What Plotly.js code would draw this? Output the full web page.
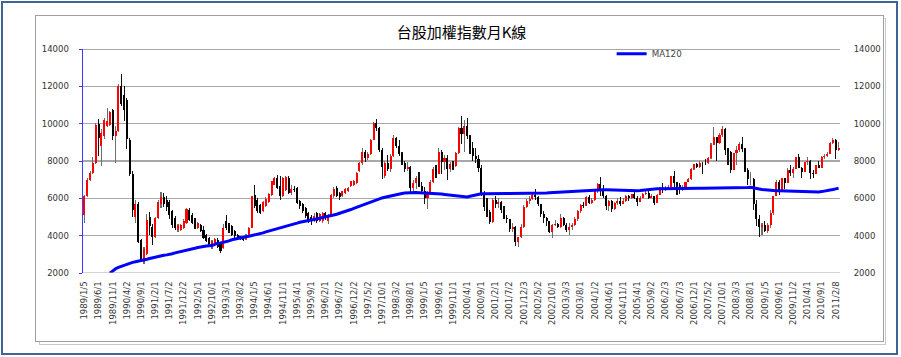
<!DOCTYPE html>
<html>
<head>
<meta charset="utf-8">
<script src="https://cdn.plot.ly/plotly-3.0.1.min.js"></script>
<style>
html,body{margin:0;padding:0;background:#fff;}
#wrap{position:relative;width:901px;height:357px;overflow:hidden;background:#fff;}
#outer{position:absolute;left:1px;top:1px;width:897px;height:354px;box-sizing:border-box;border:2px solid #3f6596;}
#f2{position:absolute;left:39px;top:18px;width:847px;height:327px;box-sizing:border-box;border:1px solid #c8c8c8;}
#f1{position:absolute;left:35px;top:15px;width:849px;height:327px;box-sizing:border-box;border:1px solid #a0a0a0;background:#fff;}
#chart{position:absolute;left:0;top:0;width:901px;height:357px;}
</style>
</head>
<body>
<div id="wrap">
<div id="outer"></div>
<div id="f2"></div>
<div id="f1"></div>
<div id="chart"></div>
</div>
<script>
// Monthly candles, 1989/1 .. 2011/3
const startYear = 1989, monthCount = 267;
const months = [];
for (let i = 0; i < monthCount; i++) {
  const y = startYear + Math.floor(i / 12), m = (i % 12) + 1;
  months.push(y + '/' + m);
}

const openP = [
 5120,6140,7000,7360,7890,10000,8790,9320,9890,9950,10750,9320,
 9600,12000,11520,11250,9100,7330,5000,5710,3750,2590,3040,4990,
 4460,3930,4960,5700,6070,5900,5800,5300,4950,4290,4320,4410,
 4680,5390,5120,4860,4410,4590,4320,4050,3880,3520,3610,3790,
 3600,3340,4770,4590,4500,4230,4050,3960,3960,3800,4050,4410,
 6200,5930,5650,5300,5600,5800,6200,6730,7090,6640,6100,6460,
 7090,6290,6500,6550,5840,5700,5500,5210,5000,4800,5210,4800,
 4770,5210,4800,5124,6150,6550,6300,6100,6300,6400,6640,6700,
 6820,7450,7900,8500,8160,8400,9140,10030,9770,8610,7200,7900,
 7550,8250,9230,8800,8400,7890,7550,7700,6550,6800,7100,6650,
 6418,5998,6311,6881,7581,7316,8467,7940,8157,7598,7854,7721,
 8448,9744,9436,9854,9347,8690,8265,8114,7616,6185,5544,5256,
 4739,5936,5674,5798,5381,4935,4883,4352,4462,3636,3903,4441,
 5551,5872,5971,6167,6065,5675,5153,4940,4764,4191,4579,4646,
 4452,4941,4555,4322,4480,4555,4872,5318,5650,5611,6045,5771,
 5890,6375,6750,6523,6117,5578,5839,5420,5765,5845,5706,5844,
 6140,5994,6207,6006,5819,6011,6241,6312,6033,6119,5764,6204,
 6548,6532,6561,6613,7171,6846,6704,6455,6611,6883,7021,7567,
 7823,7699,7901,7884,7875,8145,8884,9287,8982,9411,9711,8586,
 8506,7521,8413,8572,8920,8619,7524,7024,7046,5719,4870,4460,
 4591,4248,4557,5210,6133,6890,6432,7078,6826,7509,7340,7582,
 8188,7640,7436,7920,8004,7374,7329,7761,7616,8238,8287,8372,
 8973,9145,8600
];
const highP = [
 6200,7100,7450,8210,10030,10250,9700,10300,10840,10700,10800,9860,
 12100,12682,12030,11400,9250,7450,5900,5800,3800,3400,5180,5250,
 4600,5000,5900,6365,6300,6100,5900,5350,5050,4650,4650,4900,
 5500,5480,5200,4950,4750,4650,4500,4100,3950,3750,3850,3850,
 3650,4600,5090,4700,4550,4300,4100,4000,4000,4100,4450,6150,
 6730,6000,5700,5850,6050,6300,6950,7150,7250,7180,7150,7200,
 7180,6700,6650,6600,5900,5750,5550,5250,5100,5200,5250,5200,
 5250,5250,5150,6250,6600,6650,6350,6400,6550,6600,6950,7000,
 7400,7950,8700,8600,8500,9200,10100,10256,9800,8700,8000,8300,
 8350,9378,9300,9150,8500,8000,7950,7750,7000,7200,7400,6900,
 6600,6400,7000,7700,7800,8710,8600,8300,8300,7950,8000,8500,
 9800,10393,10200,10300,9400,9000,8700,8300,7800,6400,6000,5400,
 6000,6100,6000,5850,5600,5100,4900,4700,4500,3950,4600,5650,
 5950,6100,6300,6484,6100,5700,5300,5000,4800,4650,4850,4700,
 5150,5000,4700,4700,4700,5000,5400,5700,5800,6100,6180,6000,
 6400,6800,7135,6700,6200,5900,5900,5800,6000,6050,6000,6200,
 6200,6250,6350,6100,6100,6300,6500,6400,6250,6150,6250,6600,
 6800,6650,6700,7200,7474,6900,6800,6700,6900,7100,7600,7850,
 7900,8000,7950,8100,8200,8950,9800,9300,9500,9859,9750,8700,
 8550,8450,8800,9000,9309,8700,7600,7400,7100,5900,5100,4700,
 4800,4700,5400,6100,7000,7000,7100,7100,7600,7800,7700,8200,
 8395,7700,7950,8190,8050,7500,7800,8000,8250,8400,8500,9000,
 9220,9200,9000
];
const lowP = [
 4680,6050,6950,7300,7850,8250,7710,9200,9800,9850,9140,7890,
 9550,10960,10130,8640,7200,5020,4700,3600,2600,2485,2950,4050,
 3490,3900,4900,5500,5540,5300,4900,4400,4300,4200,4250,4350,
 4600,4800,4600,4350,4350,4180,3800,3650,3400,3300,3550,3330,
 3070,3300,4300,4150,4000,3900,3800,3750,3700,3750,4000,4400,
 5500,5200,5150,5250,5550,5750,6150,6700,6500,5930,6050,6400,
 6250,6200,6350,5700,5450,5200,4950,4700,4590,4750,4700,4750,
 4700,4850,4650,5050,6000,6050,5900,6050,6250,6350,6600,6650,
 6750,7400,7800,7950,8050,8300,9100,9600,8500,7040,7100,7450,
 7400,8200,8700,8250,7800,7400,7450,6300,6220,6500,6600,6300,
 5700,5422,6250,6800,7100,7300,7300,7500,7000,7400,7500,7700,
 8400,8900,8500,9200,8400,8000,7900,7400,6100,5300,5000,4600,
 4700,5500,5500,5200,4900,4700,4200,4200,3446,3411,3850,4400,
 5500,5700,5900,5900,5600,5000,4700,4500,4150,3850,4500,4400,
 4400,4500,4200,4044,4300,4500,4800,5200,5500,5600,5700,5700,
 5850,6300,6100,6000,5400,5300,5255,5350,5650,5600,5700,5800,
 5850,5950,5950,5600,5800,6000,6200,5950,6000,5618,5750,6200,
 6300,6400,6500,6600,6600,6200,6250,6400,6550,6850,7000,7500,
 7600,7600,7300,7800,7850,8100,8850,8000,8900,9300,8300,7800,
 7384,7500,7800,8500,8500,7400,6700,6700,5400,4500,3955,4050,
 4200,4164,4400,5100,6100,6200,6400,6500,6800,7200,7100,7550,
 7600,7080,7400,7800,7032,7100,7300,7600,7600,8100,8200,8350,
 8900,8100,8550
];
const closeP = [
 6100,7000,7360,7890,9940,9230,9500,10210,10120,10600,9320,9624,
 12030,11070,10710,9200,7330,5360,5710,3660,2680,3300,4820,4530,
 3930,4960,5800,6050,5710,5540,5090,4590,4410,4590,4590,4800,
 5430,4860,4680,4410,4680,4230,3880,3700,3430,3700,3800,3380,
 3160,4410,4410,4230,4050,3960,3880,3820,3790,4000,4410,6100,
 5570,5300,5200,5800,5960,6230,6910,7090,6550,6100,7090,7124,
 6290,6500,6450,5750,5570,5300,5050,4770,4800,5050,4770,5173,
 5200,4940,5100,6196,6500,6100,6050,6370,6500,6550,6910,6933,
 7360,7890,8500,8160,8400,9140,10030,9770,8610,7700,7900,7550,
 8250,9230,8800,8400,7890,7550,7700,6550,6800,7100,6650,6418,
 5998,6311,6881,7581,7316,8467,7940,8157,7598,7854,7721,8448,
 9744,9436,9854,9347,8690,8265,8114,7616,6185,5544,5256,4739,
 5936,5674,5798,5381,4935,4883,4352,4462,3636,3903,4441,5551,
 5872,5971,6167,6065,5675,5153,4940,4764,4191,4579,4646,4452,
 4941,4555,4322,4480,4555,4872,5318,5650,5611,6045,5771,5890,
 6375,6750,6523,6117,5578,5839,5420,5765,5845,5706,5844,6140,
 5994,6207,6006,5819,6011,6241,6312,6033,6119,5764,6204,6548,
 6532,6561,6613,7171,6846,6704,6455,6611,6883,7021,7567,7823,
 7699,7901,7884,7875,8145,8884,9287,8982,9411,9711,8586,8506,
 7521,8413,8572,8920,8619,7524,7024,7046,5719,4870,4460,4591,
 4248,4557,5210,6133,6890,6432,7078,6826,7509,7340,7582,8188,
 7640,7436,7920,8004,7374,7329,7761,7616,8238,8287,8372,8973,
 9145,8600,8683
];
const ma120 = [
 null,null,null,null,null,null,null,null,null,1990,2120,2230,
 2300,2360,2420,2480,2530,2570,2600,2625,2655,2690,2740,2780,
 2820,2850,2880,2920,2950,2970,2990,3030,3080,3110,3140,3175,
 3210,3250,3290,3330,3370,3410,3430,3450,3460,3470,3530,3600,
 3610,3640,3680,3720,3780,3820,3850,3880,3910,3940,3970,4000,
 4040,4080,4110,4150,4200,4240,4290,4330,4370,4410,4450,4490,
 4530,4570,4620,4670,4720,4760,4790,4820,4840,4870,4900,4930,
 4960,4990,5030,5070,5110,5150,5200,5240,5290,5340,5400,5460,
 5520,5580,5640,5700,5760,5820,5880,5930,5980,6020,6060,6100,
 6140,6180,6210,6240,6260,6280,6295,6305,6310,6310,6305,6300,
 6290,6280,6270,6265,6255,6245,6230,6210,6190,6170,6150,6125,
 6100,6080,6070,6075,6110,6150,6190,6220,6240,6250,6255,6260,
 6265,6270,6280,6275,6270,6265,6260,6260,6255,6255,6260,6260,
 6265,6265,6270,6270,6270,6275,6280,6290,6300,6310,6330,6345,
 6355,6360,6370,6380,6390,6400,6410,6420,6420,6425,6430,6440,
 6445,6450,6455,6460,6460,6455,6450,6440,6430,6420,6410,6400,
 6395,6395,6400,6410,6420,6440,6460,6480,6495,6505,6510,6515,
 6520,6525,6530,6530,6535,6535,6535,6535,6535,6535,6540,6540,
 6540,6545,6545,6545,6545,6550,6550,6555,6560,6565,6570,6580,
 6575,6560,6550,6545,6545,6550,6580,6590,6570,6530,6500,6470,
 6450,6435,6420,6410,6405,6400,6395,6390,6385,6375,6365,6355,
 6345,6340,6335,6335,6335,6335,6340,6345,6360,6380,6400,6430,
 6470,6505,6540
];
const tickLabels = [
 '1989/1/5','1989/6/1','1989/11/1','1990/4/2','1990/9/1','1991/2/1','1991/7/2','1991/12/2',
 '1992/5/1','1992/10/1','1993/3/1','1993/8/2','1994/1/5','1994/6/1','1994/11/1','1995/4/1',
 '1995/9/1','1996/2/1','1996/7/2','1996/12/2','1997/5/2','1997/10/1','1998/3/2','1998/8/1',
 '1999/1/5','1999/6/1','1999/11/1','2000/4/1','2000/9/1','2001/2/1','2001/7/2','2001/12/3',
 '2002/5/2','2002/10/1','2003/3/3','2003/8/1','2004/1/2','2004/6/1','2004/11/1','2005/4/1',
 '2005/9/2','2006/2/3','2006/7/3','2006/12/1','2007/5/2','2007/10/1','2008/3/3','2008/8/1',
 '2009/1/5','2009/6/1','2009/11/2','2010/4/1','2010/9/1','2011/2/8'
];
const tickVals = tickLabels.map(s => s.split('/').slice(0, 2).join('/'));

const up = closeP.map((c, i) => c >= openP[i]);
const wick = {
  type: 'bar', x: months, base: lowP, y: highP.map((h, i) => h - lowP[i]),
  width: 0.38, marker: {color: up.map(u => u ? '#6e6e6e' : '#111111'), line: {width: 0}},
  showlegend: false, hoverinfo: 'skip'
};
const body = {
  type: 'bar', x: months,
  base: openP.map((o, i) => Math.min(o, closeP[i])),
  y: openP.map((o, i) => Math.max(Math.abs(closeP[i] - o), 15)),
  width: 0.72, marker: {color: up.map(u => u ? '#ff0000' : '#000000'), line: {width: 0}},
  showlegend: false, hoverinfo: 'skip'
};
const maLine = {
  type: 'scatter', mode: 'lines', x: months, y: ma120, name: 'MA120',
  line: {color: '#0000ff', width: 3}, connectgaps: false, hoverinfo: 'skip'
};
const rightAxisTrace = {
  type: 'scatter', mode: 'lines', x: [months[0]], y: [null], yaxis: 'y2',
  showlegend: false, hoverinfo: 'skip'
};

const tickFont = {family: 'DejaVu Sans, Verdana, sans-serif', size: 8.5, color: '#333333'};
const layout = {
  width: 901, height: 357,
  margin: {l: 83, r: 60.5, t: 49.3, b: 83.7, pad: 0},
  paper_bgcolor: 'rgba(0,0,0,0)', plot_bgcolor: 'rgba(0,0,0,0)',
  barmode: 'overlay', bargap: 0,
  title: {
    text: '台股加權指數月K線', x: 0.5, xref: 'paper', xanchor: 'center',
    y: 1 - 33 / 357, yref: 'container', yanchor: 'middle',
    font: {family: 'Noto Sans CJK TC, Noto Sans CJK SC, sans-serif', size: 15, color: '#000'}
  },
  xaxis: {
    type: 'category', categoryorder: 'array', categoryarray: months,
    range: [-0.5, monthCount - 0.5], autorange: false,
    tickmode: 'array', tickvals: tickVals, ticktext: tickLabels, tickangle: -90,
    tickfont: tickFont, ticks: 'outside', ticklen: 4, tickcolor: 'rgba(0,0,0,0)',
    showgrid: false, showline: false, zeroline: false
  },
  yaxis: {
    range: [2000, 14000], autorange: false, dtick: 2000, tick0: 2000, tickformat: 'd',
    tickfont: tickFont, ticks: 'outside', ticklen: 3, tickcolor: '#3c3cff', tickwidth: 1,
    showline: true, linecolor: '#3c3cff', linewidth: 1.5,
    showgrid: true, gridcolor: '#a8a8a8', gridwidth: 1.2, zeroline: false,
    ticklabelstandoff: 8
  },
  yaxis2: {
    overlaying: 'y', side: 'right', range: [2000, 14000], autorange: false,
    dtick: 2000, tick0: 2000, tickformat: 'd', tickfont: tickFont, ticks: 'outside', ticklen: 3,
    tickcolor: 'rgba(0,0,0,0)', showgrid: false, showline: false, zeroline: false,
    ticklabelstandoff: 8
  },
  legend: {
    x: (612 - 83) / 757.5, xanchor: 'left', y: (273.3 - 54) / 224, yanchor: 'middle',
    bgcolor: 'rgba(0,0,0,0)', borderwidth: 0,
    font: {family: 'DejaVu Sans, Verdana, sans-serif', size: 8.7, color: '#444444'}
  },
  shapes: [
    {type: 'line', xref: 'paper', yref: 'y', x0: 0, x1: 1, y0: 14000, y1: 14000,
     line: {color: '#8a8a8a', width: 1.4}},
    {type: 'line', xref: 'paper', yref: 'y', x0: 0, x1: 1, y0: 2000, y1: 2000,
     line: {color: '#a8a8a8', width: 1.2}}
  ],
  showlegend: true
};

Plotly.newPlot('chart', [wick, body, maLine, rightAxisTrace], layout, {displayModeBar: false, staticPlot: true});
</script>
</body>
</html>
